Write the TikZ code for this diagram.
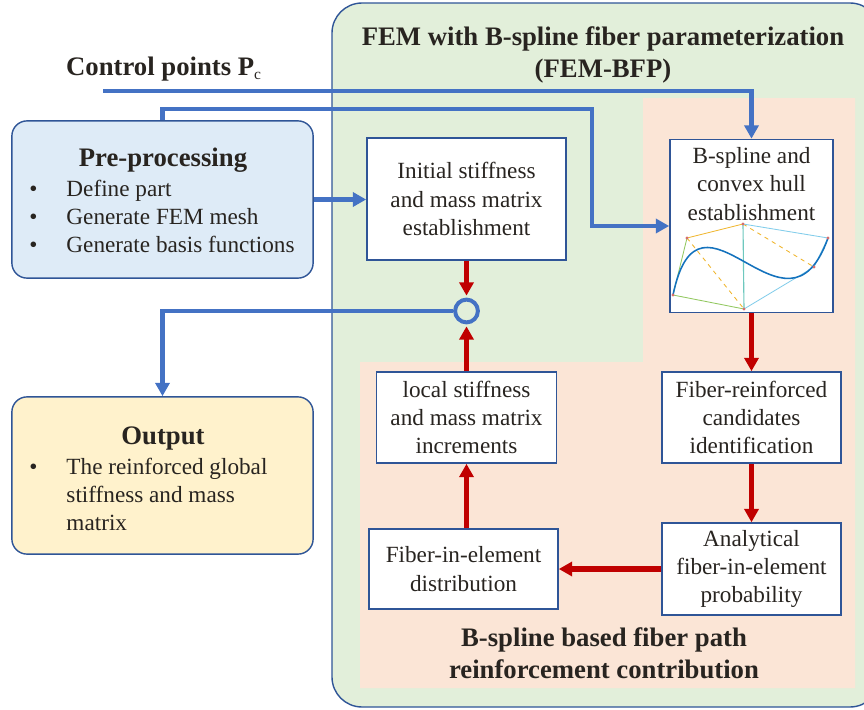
\documentclass[tikz,border=0pt]{standalone}
\usepackage{fontspec}
\setmainfont{Liberation Serif}
\usetikzlibrary{arrows.meta}

\definecolor{bluearrow}{RGB}{68,114,196}
\definecolor{redarrow}{RGB}{192,0,0}
\definecolor{boxline}{RGB}{47,85,151}
\definecolor{greenbg}{RGB}{226,239,218}
\definecolor{pinkbg}{RGB}{251,229,214}
\definecolor{prefill}{RGB}{222,235,247}
\definecolor{outfill}{RGB}{255,242,204}
\definecolor{inktext}{RGB}{40,36,32}
\definecolor{hullgreen}{RGB}{146,200,96}
\definecolor{hullorange}{RGB}{240,180,40}
\definecolor{hullcyan}{RGB}{130,205,235}
\definecolor{hullteal}{RGB}{110,200,190}
\definecolor{curveblue}{RGB}{20,114,189}
\definecolor{pointred}{RGB}{214,110,110}

\begin{document}
\begin{tikzpicture}[x=0.025cm, y=-0.025cm,
  every node/.style={text=inktext, font=\fontsize{16.5}{20}\selectfont},
  headline/.style={font=\bfseries\fontsize{19}{22.8}\selectfont, align=center},
  whitebox/.style={draw=boxline, line width=1pt, fill=white, align=center, inner sep=0pt},
  roundbox/.style={draw=boxline, line width=1pt, rounded corners=0.38cm, inner sep=0pt},
  bluearr/.style={draw=bluearrow, line width=3.4pt, -{Triangle[length=9.5pt,width=10pt]}},
  redarr/.style={draw=redarrow, line width=3.6pt, -{Triangle[length=9.5pt,width=10pt]}}]
\clip (0,0) rectangle (864,710);

% panels
\draw[boxline, line width=1pt, fill=greenbg, rounded corners=0.75cm] (332,3) rectangle (880,707);
\fill[pinkbg] (643,98) -- (855,98) -- (855,688) -- (360,688) -- (360,362) -- (643,362) -- cycle;
\node[headline] (femtitle) at (603,55) {FEM with B-spline fiber parameterization\\(FEM-BFP)};
\node[headline] (bsptitle) at (604,653) {B-spline based fiber path\\reinforcement contribution};

% left column
\node[headline] (ctrl) at (164,69) {Control points P\textsubscript{\mdseries\fontsize{11}{12}\selectfont c}};
\coordinate (ctrlstart) at (103,91);
\node[roundbox, fill=prefill, minimum width=7.53cm, minimum height=3.93cm] (pre) at (162.5,199.5) {};
\node[headline] (pretitle) at (163,160) {Pre-processing};
\node[anchor=west, inner sep=0pt] (prelist) at (29,219) {\begin{tabular}{@{}p{0.93cm}@{}l@{}}
  \textbullet & Define part\\
  \textbullet & Generate FEM mesh\\
  \textbullet & Generate basis functions
\end{tabular}};
\node[roundbox, fill=outfill, minimum width=7.53cm, minimum height=3.93cm] (out) at (162.5,475.5) {};
\node[headline] (outtitle) at (163,438) {Output};
\node[anchor=west, inner sep=0pt] (outlist) at (29,497) {\begin{tabular}{@{}p{0.93cm}@{}l@{}}
  \textbullet & The reinforced global\\
  & stiffness and mass\\
  & matrix
\end{tabular}};

% process boxes
\node[whitebox, minimum width=4.98cm, minimum height=3.05cm] (init) at (466.5,199) {Initial stiffness\\and mass matrix\\establishment};
\node[whitebox, minimum width=4.08cm, minimum height=4.33cm] (bsp) at (751.5,226) {};
\node[align=center, inner sep=0pt] (bsptext) at (751.5,184) {B-spline and\\convex hull\\establishment};
\node[whitebox, minimum width=4.48cm, minimum height=2.28cm] (fib) at (751.5,417.5) {Fiber-reinforced\\candidates\\identification};
\node[whitebox, minimum width=4.48cm, minimum height=2.3cm] (ana) at (751.5,569) {Analytical\\fiber-in-element\\probability};
\node[whitebox, minimum width=4.73cm, minimum height=2.0cm] (fie) at (463.5,569) {Fiber-in-element\\distribution};
\node[whitebox, minimum width=4.5cm, minimum height=2.28cm] (loc) at (466.5,417.5) {local stiffness\\and mass matrix\\increments};
\node[circle, draw=bluearrow, line width=2.8pt, minimum size=0.57cm, inner sep=0pt] (sum) at (466.5,311) {};

% small B-spline sketch
\coordinate (h1) at (673,295);
\coordinate (h2) at (687,238);
\coordinate (h3) at (743,224);
\coordinate (h4) at (744,309);
\coordinate (h5) at (814,267);
\coordinate (h6) at (828,238);
\draw[hullgreen, line width=0.6pt] (h2) -- (h1) -- (h4);
\draw[hullorange, line width=0.6pt] (h2) -- (h3);
\draw[hullorange, line width=0.6pt, dashed] (h2) -- (h4) (h3) -- (h5);
\draw[hullcyan, line width=0.6pt] (h3) -- (h6) -- (h5) -- (h4);
\draw[hullteal, line width=0.8pt] (h3) -- (h4);
\draw[curveblue, line width=1.1pt] (h1) .. controls (700,165) and (786,356) .. (h6);
\foreach \p in {h1,h2,h3,h4,h5,h6}
  \fill[pointred] (\p) circle (1.1pt);

% blue connectors
\coordinate (bend) at (592,109);
\draw[bluearr] (ctrlstart) -| (bsp.north);
\draw[bluearr] (pre.north) |- (bend) |- (bsp.west);
\draw[bluearr] (pre.east) -- (pre.east -| init.west);
\draw[bluearr] (sum.west) -| (out.north);

% red connectors
\draw[redarr, shorten >=1.4pt] (init.south) -- (sum.north);
\draw[redarr, shorten >=1.4pt] (loc.north) -- (sum.south);
\draw[redarr] (bsp.south) -- (fib.north);
\draw[redarr] (fib.south) -- (ana.north);
\draw[redarr] (ana.west) -- (fie.east);
\draw[redarr] (fie.north -| loc.south) -- (loc.south);
\end{tikzpicture}
\end{document}
